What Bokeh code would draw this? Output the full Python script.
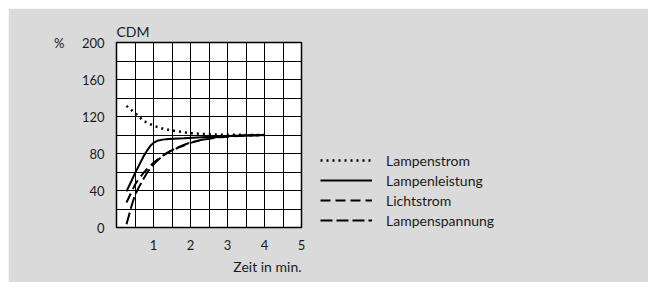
from bokeh.plotting import figure
from bokeh.models import Range1d, FixedTicker, Legend, LegendItem, Title, LinearAxis
from bokeh.embed import file_html
from bokeh.resources import INLINE

# ---- data ----
x_ticks = [1, 2, 3, 4, 5]
y_ticks = [0, 40, 80, 120, 160, 200]
x_grid = [0, 0.5, 1, 1.5, 2, 2.5, 3, 3.5, 4, 4.5, 5]
y_grid = [0, 20, 40, 60, 80, 100, 120, 140, 160, 180, 200]

strom_x = [0.27, 0.4, 0.51, 0.74, 1.0, 1.28, 1.64, 2.0, 2.37, 2.82, 3.2, 4.0]
strom_y = [131.5, 127, 123.5, 115, 110, 106.5, 104, 102, 101, 100.4, 100.2, 100]

leist_x = [0.27, 0.4, 0.51, 0.63, 0.74, 0.85, 0.92, 1.0, 1.1, 1.25, 1.4, 1.82, 2.55, 3.2, 4.0]
leist_y = [39, 50, 59.5, 69, 77.5, 84.5, 88.5, 91.5, 93.7, 95, 95.8, 96.5, 98, 99.3, 100]

licht_x = [0.27, 0.4, 0.51, 0.62, 0.74, 0.87, 1.01, 1.15, 1.28, 1.45, 1.64, 2.0, 2.37, 2.8, 3.3, 4.0]
licht_y = [27, 38, 47, 53.5, 59.5, 65, 70.3, 74.8, 78.5, 82.5, 85.8, 91.5, 95.2, 97.5, 99, 100]

spann_x = [0.27, 0.35, 0.42, 0.5, 0.6, 0.72, 0.83, 0.95, 1.05, 1.18, 1.32, 1.48, 1.64, 2.0, 2.46, 2.9, 3.4, 4.0]
spann_y = [3.6, 15, 25.2, 35, 43.2, 52, 59.5, 65.5, 70.3, 75, 79.3, 83, 86.5, 92, 96.3, 98.5, 99.5, 100]

labels = ["Lampenstrom", "Lampenleistung", "Lichtstrom", "Lampenspannung"]
unit_label = "%"
chart_title = "CDM"
x_title = "Zeit in min."

FONT = "Lato"
TXT = "#1a1a1a"
BG = "#dadada"

p = figure(frame_width=185, frame_height=185, output_backend="svg", toolbar_location=None,
           x_range=Range1d(0, 5), y_range=Range1d(0, 200),
           min_border_left=108, min_border_right=347, min_border_top=34, min_border_bottom=55)
p.margin = (8, 0, 0, 8)
p.border_fill_color = BG
p.background_fill_color = "white"
p.outline_line_color = "black"
p.outline_line_width = 1.5

# unit axis (just the "%" at the top)
unit_axis = LinearAxis(ticker=FixedTicker(ticks=[y_ticks[-1]]),
                       major_label_overrides={y_ticks[-1]: unit_label})
p.add_layout(unit_axis, "left")

def style_axis(ax):
    ax.axis_line_color = None
    ax.major_tick_line_color = None
    ax.minor_tick_line_color = None
    ax.major_tick_out = 0
    ax.major_tick_in = 0
    ax.major_label_text_font = FONT
    ax.major_label_text_font_size = "13px"
    ax.major_label_text_color = TXT

for ax in (p.xaxis[0], p.yaxis[0], unit_axis):
    style_axis(ax)
p.xaxis[0].ticker = FixedTicker(ticks=x_ticks)
p.yaxis[0].ticker = FixedTicker(ticks=y_ticks)
p.xaxis[0].major_label_standoff = 12
p.yaxis[0].major_label_standoff = 12
unit_axis.major_label_standoff = 14

p.xgrid.ticker = FixedTicker(ticks=x_grid)
p.ygrid.ticker = FixedTicker(ticks=y_grid)
for g in (p.xgrid, p.ygrid):
    g.grid_line_color = "black"
    g.grid_line_alpha = 1
    g.grid_line_width = 1

r1 = p.line(strom_x, strom_y, line_color="black", line_width=2.5, line_dash="2 4")
r2 = p.line(leist_x, leist_y, line_color="black", line_width=2)
r3 = p.line(licht_x, licht_y, line_color="black", line_width=2, line_dash="10 5")
r4 = p.line(spann_x, spann_y, line_color="black", line_width=2, line_dash="12 4")

legend = Legend(items=[LegendItem(label=l, renderers=[r]) for l, r in zip(labels, [r1, r2, r3, r4])],
                location=(19, -3), orientation="vertical",
                glyph_width=52, glyph_height=20, label_height=20, label_standoff=14,
                spacing=0, padding=0, margin=0,
                background_fill_alpha=0, border_line_color=None,
                label_text_font=FONT, label_text_font_size="14px", label_text_color=TXT)
p.add_layout(legend, "right")

p.add_layout(Title(text=chart_title, align="left", text_font=FONT, text_font_size="14px",
                   text_font_style="normal", text_color=TXT, standoff=5), "above")
p.add_layout(Title(text=x_title, align="right", text_font=FONT, text_font_size="14px",
                   text_font_style="normal", text_color=TXT, standoff=6), "below")

open("out.html", "w").write(file_html(p, INLINE))
